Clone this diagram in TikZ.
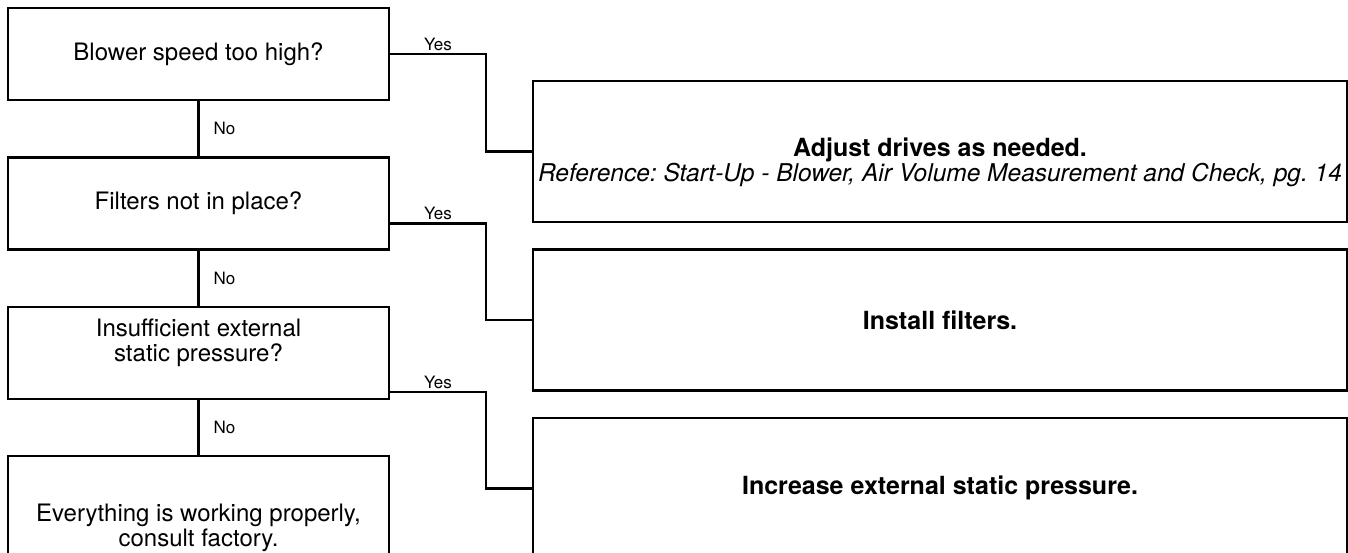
\documentclass[tikz,border=0pt]{standalone}
\usepackage{fontspec}
\setmainfont{TeX Gyre Heros}
\usepackage{xcolor}
\usepackage{tikz}
\usetikzlibrary{positioning,calc}
\definecolor{flowink}{RGB}{0,0,0}
\frenchspacing

\begin{document}
\begin{tikzpicture}[x=1pt,y=-1pt,
  every node/.style={font=\fontsize{24}{25}\selectfont},
  askbox/.style={draw=flowink, line width=2.4pt, minimum width=381pt,
                 minimum height=92pt, align=center, inner sep=0pt},
  actbox/.style={draw=flowink, line width=2.4pt, minimum width=814pt,
                 minimum height=141pt, align=center, inner sep=0pt},
  link/.style={draw=flowink, line width=2.4pt},
  tag/.style={font=\fontsize{17}{20}\selectfont, inner sep=2pt}]

\useasboundingbox (0,0) rectangle (1348,552);
\clip (0,0) rectangle (1348,552);

% questions on the left
\node[askbox] (q1) at (198.5,54) {Blower speed too high?};
\node[askbox, below=55pt of q1] (q2) {Filters not in place?};
\node[askbox, text depth=26pt, below=55pt of q2] (q3)
  {Insufficient external\\static pressure?};
\node[askbox, minimum height=144pt, below=55pt of q3] (q4)
  {Everything is working properly,\\consult factory.};

% actions on the right
\node[actbox, text height=66pt] (a1) at (940,151.5) {%
  {\fontsize{25}{26}\selectfont\bfseries Adjust drives as needed.}\\
  \fontsize{24.5}{25}\selectfont\itshape
  Reference: Start-Up - Blower, Air Volume Measurement and Check, pg. 14};
\node[actbox, below=25pt of a1] (a2)
  {\fontsize{25}{26}\selectfont\bfseries Install filters.};
\node[actbox, below=25pt of a2] (a3)
  {\fontsize{25}{26}\selectfont\bfseries Increase external static pressure.};

\draw[link] (q1) -- node[tag, right=12pt] {No} (q2);
\draw[link] (q2) -- node[tag, right=12pt] {No} (q3);
\draw[link] (q3) -- node[tag, right=12pt] {No} (q4);

\draw[link] (q1.east) -| node[tag, above, pos=0.25] {Yes}
  ([xshift=-46pt]a1.west) -- (a1.west);
\draw[link] ([yshift=-20pt]q2.east) -| node[tag, above, pos=0.25] {Yes}
  ([xshift=-46pt]a2.west) -- (a2.west);
\draw[link] ([yshift=-39pt]q3.east) -| node[tag, above, pos=0.25] {Yes}
  ([xshift=-46pt]a3.west) -- (a3.west);

\end{tikzpicture}
\end{document}
